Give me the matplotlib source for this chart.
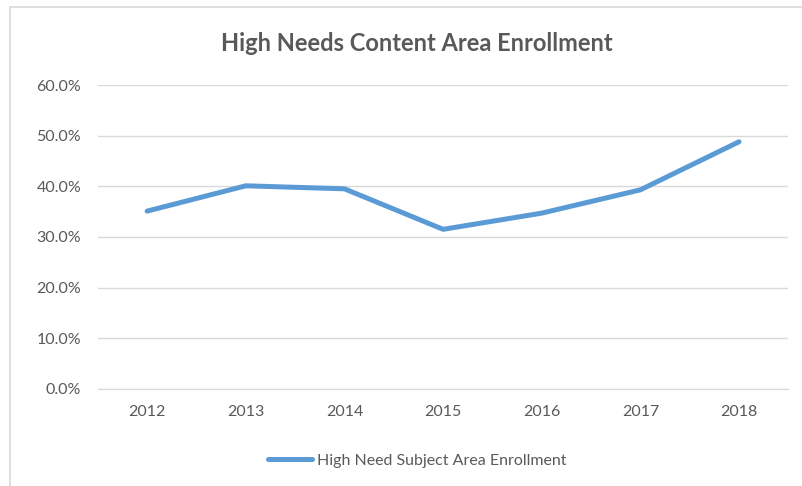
import matplotlib
matplotlib.use("Agg")
import matplotlib.pyplot as plt
from matplotlib.patches import Rectangle
from matplotlib.ticker import PercentFormatter

# data
years = ["2012", "2013", "2014", "2015", "2016", "2017", "2018"]
enrollment = [35.1, 40.1, 39.5, 31.5, 34.7, 39.3, 48.8]
series_name = "High Need Subject Area Enrollment"
title = "High Needs Content Area Enrollment"

plt.rcParams["font.family"] = ["Lato", "DejaVu Sans"]
grey = "#595959"

fig = plt.figure(figsize=(8.02, 4.86), dpi=100)
# outer chart border
fig.patches.append(Rectangle((0.013, -0.01), 1.0, 0.995, transform=fig.transFigure,
                             fill=False, edgecolor="#d9d9d9", linewidth=1.2))

ax = fig.add_axes([0.122, 0.2, 0.861, 0.625])
x = range(len(years))
ax.plot(x, enrollment, color="#5B9BD5", linewidth=3.6, solid_capstyle="round",
        label=series_name)

ax.set_ylim(0, 60)
ax.set_yticks(range(0, 61, 10))
ax.yaxis.set_major_formatter(PercentFormatter(decimals=1))
ax.set_xlim(-0.5, len(years) - 0.5)
ax.set_xticks(list(x))
ax.set_xticklabels(years)
ax.grid(axis="y", color="#d9d9d9", linewidth=1)
ax.set_axisbelow(True)
for s in ["top", "right", "left"]:
    ax.spines[s].set_visible(False)
ax.spines["bottom"].set_color("#d9d9d9")
ax.tick_params(length=0, colors=grey, labelsize=11.5, pad=12)
ax.tick_params(axis="y", pad=12)

fig.text(0.52, 0.91, title, ha="center", va="center", fontsize=17,
         fontweight="bold", color=grey)

fig.legend(loc="center", bbox_to_anchor=(0.52, 0.052), frameon=False,
           fontsize=11.5, labelcolor=grey, handlelength=2.8, handletextpad=0.3)

fig.savefig("out.png", dpi=100)
